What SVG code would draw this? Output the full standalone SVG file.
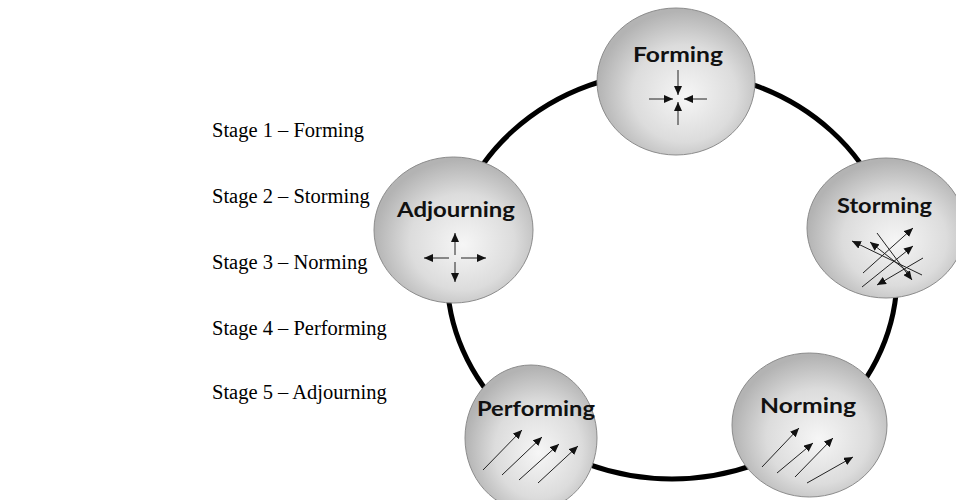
<svg xmlns="http://www.w3.org/2000/svg" width="956" height="500" viewBox="0 0 956 500">
<defs>
  <radialGradient id="ball" cx="0.55" cy="0.57" r="0.55" fx="0.56" fy="0.6">
    <stop offset="0" stop-color="#f6f6f6"/>
    <stop offset="0.6" stop-color="#dcdcdc"/>
    <stop offset="1" stop-color="#b3b3b3"/>
  </radialGradient>
  <marker id="ah" markerUnits="userSpaceOnUse" markerWidth="9" markerHeight="8" refX="9" refY="4" orient="auto">
    <path d="M0,0 L9,4 L0,8 z" fill="#111"/>
  </marker>
</defs>
<style>
  .stage { font-family: "Liberation Serif", "Times New Roman", serif; font-size: 20.5px; fill: #000; }
  .node { fill: url(#ball); stroke: #8c8c8c; stroke-width: 1; }
  .lbl { font-family: Lato, "Open Sans", sans-serif; font-weight: 700; font-size: 20px; fill: #111; text-anchor: middle; }
  .ar { stroke: #222; stroke-width: 1; fill: none; marker-end: url(#ah); }
  .ring { fill: none; stroke: #000; stroke-width: 5; }
</style>
<rect width="956" height="500" fill="#fff"/>

<g id="stages">
  <text class="stage" x="212" y="137">Stage 1 – Forming</text>
  <text class="stage" x="212" y="203">Stage 2 – Storming</text>
  <text class="stage" x="212" y="269">Stage 3 – Norming</text>
  <text class="stage" x="212" y="335">Stage 4 – Performing</text>
  <text class="stage" x="212" y="399">Stage 5 – Adjourning</text>
</g>

<g id="connectors">
  <ellipse class="ring" cx="672" cy="275" rx="225" ry="204"/>
</g>

<g id="forming">
  <ellipse class="node" cx="676" cy="81.5" rx="79" ry="73.5"/>
  <text class="lbl" x="678" y="62" textLength="90" lengthAdjust="spacingAndGlyphs">Forming</text>
  <line class="ar" x1="678" y1="70" x2="678" y2="95"/>
  <line class="ar" x1="678" y1="125" x2="678" y2="102"/>
  <line class="ar" x1="649" y1="99" x2="673" y2="99"/>
  <line class="ar" x1="707" y1="99" x2="684" y2="99"/>
</g>

<g id="storming">
  <ellipse class="node" cx="886" cy="228" rx="79" ry="70"/>
  <text class="lbl" x="884.5" y="213" textLength="95" lengthAdjust="spacingAndGlyphs">Storming</text>
  <line class="ar" x1="863" y1="273" x2="913" y2="228"/>
  <line class="ar" x1="862" y1="287" x2="913" y2="246"/>
  <line class="ar" x1="923" y1="258" x2="877" y2="285"/>
  <line class="ar" x1="922" y1="275" x2="852" y2="241"/>
  <line class="ar" x1="877" y1="233" x2="912" y2="280"/>
  <line class="ar" x1="908" y1="272" x2="870" y2="242"/>
</g>

<g id="norming">
  <ellipse class="node" cx="809.5" cy="425" rx="77.5" ry="72"/>
  <text class="lbl" x="808" y="413" textLength="96" lengthAdjust="spacingAndGlyphs">Norming</text>
  <line class="ar" x1="762" y1="467" x2="799" y2="428"/>
  <line class="ar" x1="777" y1="473" x2="813" y2="443"/>
  <line class="ar" x1="795" y1="477" x2="833" y2="438"/>
  <line class="ar" x1="807" y1="483" x2="853" y2="457"/>
</g>

<g id="performing">
  <ellipse class="node" cx="531" cy="438" rx="66" ry="73"/>
  <text class="lbl" x="536" y="416" textLength="118" lengthAdjust="spacingAndGlyphs">Performing</text>
  <line class="ar" x1="483" y1="470" x2="522" y2="430"/>
  <line class="ar" x1="502" y1="475" x2="542" y2="437"/>
  <line class="ar" x1="519" y1="480" x2="559" y2="444"/>
  <line class="ar" x1="538" y1="483" x2="578" y2="446"/>
</g>

<g id="adjourning">
  <ellipse class="node" cx="453.5" cy="230" rx="79.5" ry="73"/>
  <text class="lbl" x="456" y="217" textLength="118" lengthAdjust="spacingAndGlyphs">Adjourning</text>
  <line class="ar" x1="455" y1="255" x2="455" y2="233"/>
  <line class="ar" x1="455" y1="262" x2="455" y2="282"/>
  <line class="ar" x1="449" y1="258" x2="424" y2="258"/>
  <line class="ar" x1="461" y1="258" x2="486" y2="258"/>
</g>
</svg>
